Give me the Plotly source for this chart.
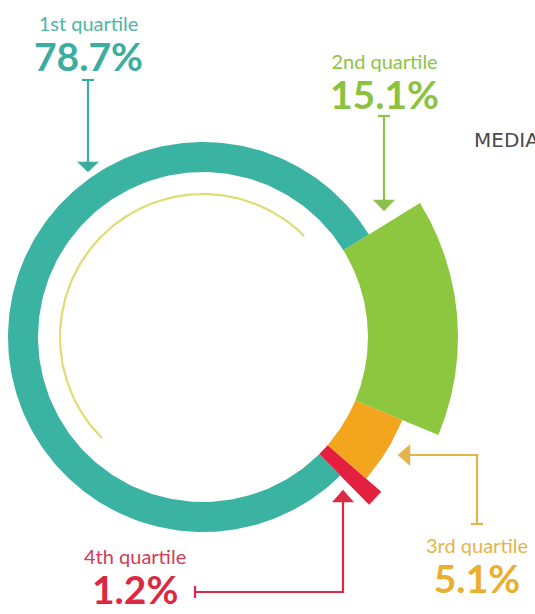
import numpy as np
import plotly.graph_objects as go

# ---- data -------------------------------------------------------------
quartiles = ["1st quartile", "2nd quartile", "3rd quartile", "4th quartile"]
shares = [78.7, 15.1, 5.1, 1.2]
side_note = "MEDIA"

# ---- styling ------------------------------------------------------------
W, H = 535, 614
FONT = "Lato"
cx, cy = 203, 337          # ring centre (pixel units of the canvas axes)
r_inner = 165
r_outer = [195, 255, 216, 236]
start_deg = 58.3           # compass angle where the 2nd quartile begins
draw_order = [1, 2, 3, 0]  # clockwise sequence starting at start_deg
seg_colors = ["#3BB3A3", "#8DC63F", "#F3A51D", "#E3203F"]
label_colors = ["#4DB5A6", "#8DC348", "#E3B44A", "#D23B55"]
value_colors = ["#3BAE9F", "#8BC240", "#EAB02C", "#DE2743"]
arrow_colors = ["#3BAE9E", "#8CC04A", "#E3B449", "#DA2A45"]
median_color = "#E0DC72"

# (x centre, y of the bottom edge) of each two-line callout
callout_pos = [(88, 80.5), (384, 119), (477, 602.5), (135, 614)]

# arrow paths: polyline points from tail to the base of the head, plus head tip
arrows = [
    dict(pts=[(88, 80), (88, 162)], tip=(88, 172)),
    dict(pts=[(384, 116), (384, 200)], tip=(384, 211)),
    dict(pts=[(477, 524), (477, 455), (410, 455)], tip=(398, 455)),
    dict(pts=[(195, 592), (343, 592), (343, 502)], tip=(343, 490)),
]


def sector(a0, a1, ri, ro):
    t = np.radians(np.linspace(a0, a1, 240))
    xs = np.concatenate([cx + ro * np.sin(t), cx + ri * np.sin(t[::-1])])
    ys = np.concatenate([cy - ro * np.cos(t), cy - ri * np.cos(t[::-1])])
    return np.append(xs, xs[0]), np.append(ys, ys[0])


fig = go.Figure()

total = sum(shares)
angle = start_deg
for i in draw_order:
    span = shares[i] / total * 360.0
    xs, ys = sector(angle, angle + span, r_inner, r_outer[i])
    fig.add_trace(go.Scatter(
        x=xs, y=ys, mode="lines", fill="toself",
        fillcolor=seg_colors[i], line=dict(width=0, color=seg_colors[i]),
        hoverinfo="skip", showlegend=False, name=quartiles[i],
    ))
    angle += span

# thin inner guide arc
t = np.radians(np.linspace(225, 405, 200))
fig.add_trace(go.Scatter(
    x=cx + 143 * np.sin(t), y=cy - 143 * np.cos(t), mode="lines",
    line=dict(color=median_color, width=2.2), hoverinfo="skip", showlegend=False,
))

shapes = []
for k, a in enumerate(arrows):
    col = arrow_colors[k]
    pts = a["pts"]
    path = "M " + " L ".join(f"{x},{y}" for x, y in pts)
    shapes.append(dict(type="path", path=path, xref="x", yref="y",
                       line=dict(color=col, width=2.2)))
    # flat bar at the tail, perpendicular to the first segment
    (x0, y0), (x1, y1) = pts[0], pts[1]
    dx, dy = x1 - x0, y1 - y0
    n = np.hypot(dx, dy)
    px, py = -dy / n * 6, dx / n * 6
    shapes.append(dict(type="line", xref="x", yref="y",
                       x0=x0 - px, y0=y0 - py, x1=x0 + px, y1=y0 + py,
                       line=dict(color=col, width=2.2)))
    # triangular head
    (bx, by), (tx, ty) = pts[-1], a["tip"]
    dx, dy = tx - bx, ty - by
    n = np.hypot(dx, dy)
    px, py = -dy / n * 10.5, dx / n * 10.5
    head = f"M {bx - px},{by - py} L {bx + px},{by + py} L {tx},{ty} Z"
    shapes.append(dict(type="path", path=head, xref="x", yref="y",
                       fillcolor=col, line=dict(color=col, width=0.5)))

annotations = []
for i, name in enumerate(quartiles):
    x, y = callout_pos[i]
    text = (f"<span style='font-size:20px;color:{label_colors[i]}'>{name}</span>"
            f"<br><b><span style='font-size:39px'>{shares[i]}%</span></b>")
    annotations.append(dict(x=x, y=y, xref="x", yref="y", text=text,
                            showarrow=False, xanchor="center", yanchor="bottom",
                            align="center",
                            font=dict(family=FONT, size=31, color=value_colors[i])))
annotations.append(dict(x=472, y=140, xref="x", yref="y", text=side_note,
                        showarrow=False, xanchor="left", yanchor="middle",
                        font=dict(family="DejaVu Sans", size=20, color="#4A4A4A")))

fig.update_layout(
    width=W, height=H,
    margin=dict(l=0, r=0, t=0, b=0),
    paper_bgcolor="white", plot_bgcolor="white",
    xaxis=dict(range=[0, W], visible=False, fixedrange=True),
    yaxis=dict(range=[H, 0], visible=False, fixedrange=True),
    shapes=shapes, annotations=annotations,
)

fig.write_html("out.html")
